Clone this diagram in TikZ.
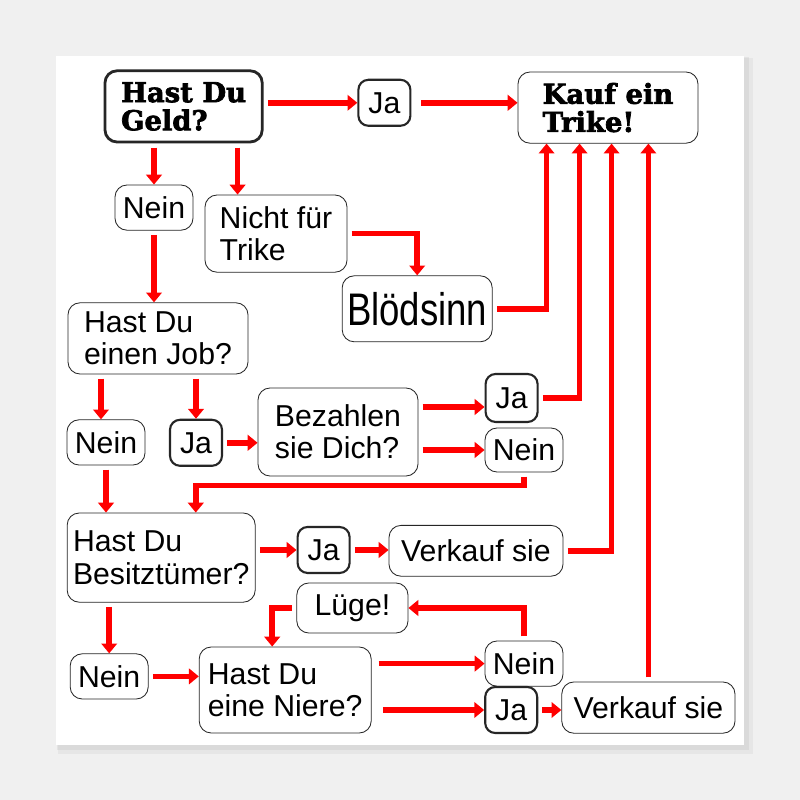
\documentclass[tikz,border=0pt]{standalone}
\usepackage{fontspec}
\usepackage{graphicx}
\setmainfont{Liberation Sans}
\newfontfamily\headfont{DejaVu Serif}[BoldFeatures={FakeBold=2.5}]
\usetikzlibrary{arrows.meta}

\definecolor{bggray}{RGB}{240,240,240}
\definecolor{trikered}{RGB}{255,0,0}

\begin{document}
\begin{tikzpicture}[
  box/.style={
    draw=black!85, line width=0.6pt, rectangle, rounded corners=0.3cm,
    font=\fontsize{21.5}{23}\selectfont, align=left, inner sep=2pt
  },
  jabox/.style={
    box, line width=1.5pt, rounded corners=0.25cm,
    minimum width=1.3cm, minimum height=1.15cm
  },
  neinbox/.style={
    box, minimum width=1.95cm, minimum height=1.13cm
  },
  headbox/.style={
    box, font=\headfont\bfseries\fontsize{19.5}{20}\selectfont
  },
  arr/.style={
    draw=trikered, line width=4pt, shorten <=3pt,
    -{Triangle[length=7pt,width=11pt]}
  },
]

% poster background
\useasboundingbox (0,0) rectangle (20,20);
\fill[bggray] (0,0) rectangle (20,20);
\fill[black, opacity=0.04] (1.45,1.15) rectangle (18.82,18.55);
\fill[black, opacity=0.05] (1.42,1.25) rectangle (18.72,18.58);
\fill[white] (1.4,1.375) rectangle (18.6,18.6);

% row 1
\node[headbox, line width=2pt, minimum width=3.93cm, minimum height=1.78cm] (geld) at (4.59, 17.34) {Hast Du\\Geld?};
\node[jabox] (ja1) at (9.61, 17.43) {Ja};
\node[headbox, minimum width=4.5cm, minimum height=1.78cm] (kauf) at (15.2, 17.31) {Kauf ein\\Trike!};

% row 2
\node[neinbox] (nein1) at (3.85, 14.81) {Nein};
\node[box, minimum width=3.55cm, minimum height=1.93cm] (nicht) at (6.9, 14.16) {Nicht für\\Trike};
\node[box, minimum width=3.75cm, minimum height=1.65cm] (bloed) at (10.43, 12.28)
  {\fontsize{26}{30}\selectfont\scalebox{1}[1.25]{Blödsinn}};

% job
\node[box, minimum width=4.5cm, minimum height=1.78cm] (job) at (3.95, 11.54) {Hast Du\\einen Job?};
\node[neinbox] (nein2) at (2.65, 8.94) {Nein};
\node[jabox] (ja2) at (4.9, 8.93) {Ja};
\node[box, minimum width=4.0cm, minimum height=2.2cm] (bez) at (8.45, 9.2) {Bezahlen\\sie Dich?};
\node[jabox, minimum height=1.2cm] (ja3) at (12.79, 10.05) {Ja};
\node[neinbox, minimum height=1.1cm] (nein3) at (13.1, 8.75) {Nein};

% besitz
\node[box, minimum width=4.7cm, minimum height=2.23cm] (besitz) at (4.03, 6.06) {Hast Du\\Besitztümer?};
\node[jabox] (ja4) at (8.09, 6.25) {Ja};
\node[box, minimum width=4.35cm, minimum height=1.27cm] (verk1) at (11.9, 6.23) {Verkauf sie};
\node[box, minimum width=2.78cm, minimum height=1.25cm] (luege) at (8.81, 4.8) {Lüge!};

% niere
\node[neinbox] (nein4) at (2.73, 3.09) {Nein};
\node[box, minimum width=4.3cm, minimum height=2.15cm] (niere) at (7.13, 2.75) {Hast Du\\eine Niere?};
\node[neinbox] (nein5) at (13.1, 3.41) {Nein};
\node[jabox] (ja5) at (12.78, 2.25) {Ja};
\node[box, minimum width=4.33cm, minimum height=1.28cm] (verk2) at (16.21, 2.31) {Verkauf sie};

% entry points
\coordinate (k1) at ([xshift=0.725cm]kauf.south west);
\coordinate (k2) at ([xshift=1.55cm]kauf.south west);
\coordinate (k3) at ([xshift=2.35cm]kauf.south west);
\coordinate (nichtin) at ([xshift=0.825cm]nicht.north west);
\coordinate (bzja) at ([yshift=0.625cm]bez.east);
\coordinate (bsin) at ([xshift=3.225cm]besitz.north west);
\coordinate (nierein) at ([xshift=-0.325cm]niere.north);
\coordinate (jobnein) at ([xshift=-0.125cm]nein2.north);

\draw[arr] (geld.east |- ja1) -- (ja1.west);
\draw[arr, shorten <=7pt] (ja1.east) -- (ja1.east -| kauf.west);
\draw[arr] (nein1.north |- geld.south) -- (nein1.north);
\draw[arr] (nichtin |- geld.south) -- (nichtin);
\draw[arr] (nein1.south) -- (nein1.south |- job.north);
\draw[arr] (nicht.east) -| (bloed.north);
\draw[arr] (bloed.east) -| (k1);
\draw[arr] (ja3.east) -| (k2);
\draw[arr] (verk1.east) -| (k3);
\draw[arr] (verk2.north) -- (verk2.north |- kauf.south);

\draw[arr] (jobnein |- job.south) -- (jobnein);
\draw[arr] (ja2.north |- job.south) -- (ja2.north);
\draw[arr] (ja2.east) -- (ja2.east -| bez.west);
\draw[arr] (bzja) -- (bzja -| ja3.west);
\draw[arr] (nein3.west -| bez.east) -- (nein3.west);
\draw[arr] (nein3.south) -- ++(0,-0.33) -| (bsin);
\draw[arr] (nein2.south) -- (nein2.south |- besitz.north);

\draw[arr] (besitz.east |- ja4) -- (ja4.west);
\draw[arr] (ja4.east) -- (ja4.east -| verk1.west);
\draw[arr] (nein4.north |- besitz.south) -- (nein4.north);
\draw[arr] (nein4.east) -- (nein4.east -| niere.west);
\draw[arr] (nein5.north) |- (luege.east);
\draw[arr] (luege.west) -| (nierein);
\draw[arr, shorten <=5pt] (nein5.west -| niere.east) -- (nein5.west);
\draw[arr, shorten <=8pt] (ja5.west -| niere.east) -- (ja5.west);
\draw[arr] (ja5.east) -- (ja5.east -| verk2.west);

\end{tikzpicture}
\end{document}
